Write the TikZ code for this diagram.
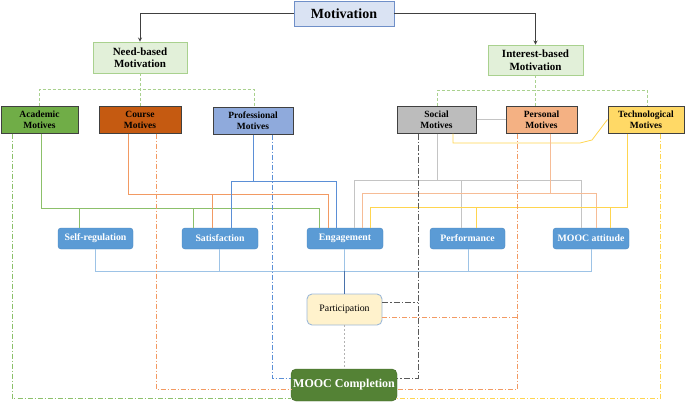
\documentclass[tikz,border=0pt]{standalone}
\usepackage{fontspec}
\setmainfont{Liberation Serif}
\usetikzlibrary{positioning,arrows}

\definecolor{topblue}{HTML}{DAE3F3}
\definecolor{topedge}{HTML}{6F8FC8}
\definecolor{needfill}{HTML}{E2F0D9}
\definecolor{neededge}{HTML}{A9D18E}
\definecolor{acadfill}{HTML}{70AD47}
\definecolor{coursefill}{HTML}{C55A11}
\definecolor{proffill}{HTML}{8FAADC}
\definecolor{socialfill}{HTML}{BCBCBC}
\definecolor{persfill}{HTML}{F4B183}
\definecolor{techfill}{HTML}{FFD966}
\definecolor{resfill}{HTML}{5B9BD5}
\definecolor{resedge}{HTML}{4A86C0}
\definecolor{partfill}{HTML}{FFF2CC}
\definecolor{partedge}{HTML}{9DB9D9}
\definecolor{compfill}{HTML}{548235}
\definecolor{acadln}{HTML}{8CC06A}
\definecolor{courseln}{HTML}{F29A63}
\definecolor{profln}{HTML}{5B8FD6}
\definecolor{socialln}{HTML}{C4C4C4}
\definecolor{persln}{HTML}{F6BC96}
\definecolor{techln}{HTML}{FFD54F}
\definecolor{busln}{HTML}{9DC3E6}
\definecolor{darkdash}{HTML}{595959}

\tikzset{
  motbox/.style={draw=#1, line width=0.9pt, align=center, inner sep=0pt,
    font=\fontsize{11}{12.5}\selectfont\bfseries},
  motivebox/.style={draw=black!75, line width=1pt, fill=#1, align=center, inner sep=0pt,
    minimum height=27pt, font=\fontsize{9.5}{11}\selectfont\bfseries},
  resultbox/.style={draw=resedge, fill=resfill, rounded corners=3pt, inner sep=0pt,
    minimum width=75pt, minimum height=21pt, text=white,
    font=\fontsize{9.8}{11}\selectfont\bfseries},
  solidln/.style={draw=#1, line width=0.8pt},
  dashdotln/.style={draw=#1, line width=0.8pt, dash pattern=on 5pt off 2pt on 1pt off 2pt},
  greendash/.style={draw=neededge, line width=0.9pt, dash pattern=on 3pt off 2pt},
}

\begin{document}
\begin{tikzpicture}[x=1pt, y=-1pt, >=stealth]
  \useasboundingbox (0,0) rectangle (685,402);

  % top level
  \node [motbox=topedge, fill=topblue, minimum width=100pt, minimum height=25pt,
         font=\fontsize{14}{16}\selectfont\bfseries] at (344,13.5) (Motivation) {Motivation};
  \node [motbox=neededge, fill=needfill, minimum width=94pt, minimum height=31pt] at (140,57.5) (Need) {Need-based\\Motivation};
  \node [motbox=neededge, fill=needfill, minimum width=95pt, minimum height=30pt] at (535.5,60) (Interest) {Interest-based\\Motivation};

  % motives
  \node [motivebox=acadfill, minimum width=77pt] at (39.5,119.5) (Academic) {Academic\\Motives};
  \node [motivebox=coursefill, minimum width=82pt] at (140,119.5) (Course) {Course\\Motives};
  \node [motivebox=proffill, minimum width=80pt] at (253,120.5) (Professional) {Professional\\Motives};
  \node [motivebox=socialfill, minimum width=79pt] at (436.5,119.5) (Social) {Social\\Motives};
  \node [motivebox=persfill, minimum width=71pt] at (541.5,119.5) (Personal) {Personal\\Motives};
  \node [motivebox=techfill, minimum width=76pt] at (646,119.5) (Technological) {Technological\\Motives};

  % results
  \node [resultbox] at (95.5,238.5) (SelfReg) {Self-regulation};
  \node [resultbox, minimum width=76pt] at (220,238.5) (Satisfaction) {Satisfaction};
  \node [resultbox, minimum width=76pt] at (345,238.5) (Engagement) {Engagement};
  \node [resultbox] at (467.5,238.5) (Performance) {Performance};
  \node [resultbox, minimum width=76pt] at (591,238.5) (Attitude) {MOOC attitude};

  \node [draw=partedge, fill=partfill, line width=0.9pt, rounded corners=5pt, inner sep=0pt,
         minimum width=75pt, minimum height=31pt, font=\fontsize{9.8}{11}\selectfont] at (344.5,309.5) (Participation) {Participation};
  \node [draw=compfill!80!black, fill=compfill, rounded corners=5pt, inner sep=0pt,
         minimum width=106pt, minimum height=32pt, text=white,
         font=\fontsize{12}{14}\selectfont\bfseries] at (344,385) (Completion) {MOOC Completion};

  % top arrows
  \draw[->, black!75, line width=0.8pt] (Motivation.west) -| (Need.north);
  \draw[->, black!75, line width=0.8pt] (Motivation.east) -| (Interest.north);

  % green dashed splits
  \draw[greendash] (Need.south) -- (140,89);
  \draw[greendash] (Academic.north -| 39,0) |- (254,89) -- (Professional.north -| 254,0);
  \draw[greendash] (Course.north) -- (140,89);
  \draw[greendash] (Interest.south) -- (535.5,90);
  \draw[greendash] (Social.north -| 437,0) |- (647,90) -- (Technological.north -| 647,0);
  \draw[greendash] (Personal.north -| 535.5,0) -- (535.5,90);

  % side links between motives
  \draw[solidln=socialln] (Social.east) -- (Personal.west);
  \draw[solidln=techln] (Social.south -| 453,0) |- (580,143) -- (592,140) -- (Technological.west);

  % solid links motives -> results
  \draw[solidln=acadln] (Academic.south -| 41,0) |- (319,208) -- (Engagement.north -| 319,0);
  \draw[solidln=acadln] (79,208) -- (SelfReg.north -| 79,0);
  \draw[solidln=acadln] (193,208) -- (Satisfaction.north -| 193,0);

  \draw[solidln=courseln] (Course.south -| 128,0) |- (328,194) -- (Engagement.north -| 328,0);
  \draw[solidln=courseln] (212,194) -- (Satisfaction.north -| 212,0);

  \draw[solidln=profln] (Professional.south) -- (253,181);
  \draw[solidln=profln] (Satisfaction.north -| 231,0) |- (336,181) -- (Engagement.north -| 336,0);

  \draw[solidln=socialln] (Social.south -| 437,0) -- (437,180);
  \draw[solidln=socialln] (Engagement.north -| 354,0) |- (581,180) -- (Attitude.north -| 581,0);
  \draw[solidln=socialln] (461,180) -- (Performance.north -| 461,0);

  \draw[solidln=persln] (Personal.south -| 550,0) -- (550,193);
  \draw[solidln=persln] (Engagement.north -| 362,0) |- (596,193) -- (Attitude.north -| 596,0);

  \draw[solidln=techln] (Technological.south -| 627,0) |- (370,207) -- (Engagement.north -| 370,0);
  \draw[solidln=techln] (476,207) -- (Performance.north -| 476,0);
  \draw[solidln=techln] (610,207) -- (Attitude.north -| 610,0);

  % results -> participation
  \draw[solidln=busln] (SelfReg.south) |- (Attitude.south |- 0,271) -- (Attitude.south);
  \draw[solidln=busln] (Satisfaction.south -| 219,0) -- (219,271);
  \draw[solidln=busln] (Engagement.south -| 344,0) -- (344,271);
  \draw[solidln=busln] (Performance.south -| 468,0) -- (468,271);
  \draw[solidln=profln!80!black] (344,271) -- (Participation.north -| 344,0);

  \draw[draw=black!30, line width=0.8pt, dash pattern=on 2pt off 2pt] (Participation.south -| 344,0) -- (Completion.north -| 344,0);

  % dash-dot links motives -> completion
  \draw[dashdotln=acadln] (Academic.south -| 12,0) |- (Completion.west |- 0,398);
  \draw[dashdotln=courseln] (Course.south -| 156,0) |- (Completion.west |- 0,389);
  \draw[dashdotln=profln] (Professional.south -| 272,0) |- (Completion.west |- 0,378);
  \draw[dashdotln=darkdash, line width=1pt, dash pattern=on 6pt off 2pt on 1.5pt off 2pt]
    (Social.south -| 418,0) |- (Completion.east |- 0,378);
  \draw[dashdotln=darkdash, line width=1pt, dash pattern=on 6pt off 2pt on 1.5pt off 2pt]
    (Participation.east |- 0,302) -- (418,302);
  \draw[dashdotln=courseln] (Personal.south -| 517,0) |- (Completion.east |- 0,389);
  \draw[dashdotln=courseln] (Participation.east |- 0,317) -- (517,317);
  \draw[dashdotln=techln] (Technological.south -| 660,0) |- (Completion.east |- 0,398);
\end{tikzpicture}
\end{document}
